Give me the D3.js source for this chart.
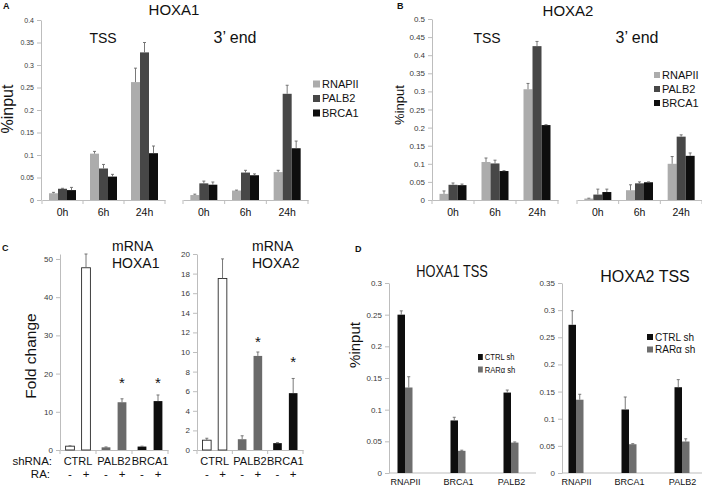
<!DOCTYPE html>
<html>
<head>
<meta charset="utf-8">
<script src="https://cdn.jsdelivr.net/npm/d3@7"></script>
<style>
  body { margin: 0; background: #fff; }
  text { font-family: "Liberation Sans", Arial, sans-serif; }
</style>
</head>
<body>
<svg id="fig" width="702" height="488"></svg>
<script>
// ---- data ----
var timepoints = ["0h", "6h", "24h"];
var chipSeries = ["RNAPII", "PALB2", "BRCA1"];

// panel A, HOXA1 (%input), rows = timepoints, cols = chipSeries
var a_tss = [[0.015, 0.025, 0.022], [0.103, 0.070, 0.052], [0.262, 0.328, 0.104]];
var a_tssErr = [[0.002, 0.001, 0.006], [0.005, 0.009, 0.005], [0.031, 0.022, 0.016]];
var a_end = [[0.011, 0.037, 0.034], [0.021, 0.061, 0.055], [0.062, 0.236, 0.115]];
var a_endErr = [[0.002, 0.005, 0.006], [0.001, 0.005, 0.003], [0.004, 0.019, 0.016]];

// panel B, HOXA2
var b_tss = [[0.017, 0.042, 0.041], [0.105, 0.101, 0.080], [0.306, 0.425, 0.207]];
var b_tssErr = [[0.008, 0.005, 0.003], [0.011, 0.009, 0.001], [0.016, 0.013, 0.001]];
var b_end = [[0.004, 0.015, 0.022], [0.027, 0.046, 0.049], [0.100, 0.175, 0.122]];
var b_endErr = [[0.001, 0.015, 0.008], [0.015, 0.004, 0.001], [0.020, 0.005, 0.008]];

// panel C, mRNA fold change, order CTRL-,CTRL+,PALB2-,PALB2+,BRCA1-,BRCA1+
var shGroups = ["CTRL", "PALB2", "BRCA1"];
var raStates = ["-", "+"];
var c_hoxa1 = [1.0, 47.7, 0.7, 12.5, 0.9, 12.8];
var c_hoxa1Err = [0.1, 3.6, 0.1, 0.9, 0.1, 1.6];
var c_hoxa1Star = [null, null, null, 18.3, null, 18.3];
var c_hoxa2 = [1.0, 17.5, 1.1, 9.6, 0.7, 5.8];
var c_hoxa2Err = [0.2, 2.0, 0.35, 0.4, 0.05, 1.5];
var c_hoxa2Star = [null, null, null, 11.3, null, 9.3];

// panel D, %input at TSS
var dTargets = ["RNAPII", "BRCA1", "PALB2"];
var dSeries = ["CTRL sh", "RARα sh"];
var d_hoxa1 = [[0.250, 0.135], [0.083, 0.035], [0.127, 0.048]];
var d_hoxa1Err = [[0.006, 0.017], [0.005, 0.001], [0.004, 0.001]];
var d_hoxa2 = [[0.273, 0.135], [0.117, 0.053], [0.158, 0.058]];
var d_hoxa2Err = [[0.026, 0.010], [0.023, 0.001], [0.014, 0.005]];

var chipColors = ["#acacac", "#474747", "#0e0e0e"];
var shColors = ["#ffffff", "#6a6a6a", "#0e0e0e"];
var dColors = ["#0e0e0e", "#6e6e6e"];

var svg = d3.select("#fig");
var fmt = function (d) { return String(+d.toFixed(2)); };
var AXIS = "#bdbdbd", ERR = "#6a6a6a";

function axisStyle(g, size) {
  g.attr("font-family", null).attr("font-size", size);
  g.select(".domain").attr("stroke", AXIS);
  g.selectAll(".tick line").attr("stroke", AXIS);
  g.selectAll(".tick text").attr("fill", "#3a3a3a");
}

function label(x, y, s, size, opt) {
  opt = opt || {};
  var t = svg.append("text").attr("x", x).attr("y", y)
    .attr("font-size", size)
    .attr("text-anchor", opt.anchor || "middle")
    .attr("fill", opt.fill || "#111")
    .text(s);
  if (opt.bold) t.attr("font-weight", "bold");
  if (opt.rotate) t.attr("transform", "rotate(-90," + x + "," + y + ")");
  if (opt.sx) t.attr("transform", "translate(" + x + "," + y + ") scale(" + opt.sx + ",1) translate(" + (-x) + "," + (-y) + ")");
  return t;
}

function errBar(g, cx, y0, y1) {
  g.append("line").attr("x1", cx).attr("x2", cx).attr("y1", y0).attr("y2", y1)
    .attr("stroke", ERR).attr("stroke-width", 0.9);
  g.append("line").attr("x1", cx - 1.5).attr("x2", cx + 1.5).attr("y1", y1).attr("y2", y1)
    .attr("stroke", ERR).attr("stroke-width", 0.9);
}

function legend(x, y0, dy, names, colors, size, sq, sx) {
  names.forEach(function (n, i) {
    var cy = y0 + i * dy;
    svg.append("rect").attr("x", x).attr("y", cy - sq / 2).attr("width", sq * (sx || 1)).attr("height", sq)
      .attr("fill", colors[i]);
    label(x + sq * (sx || 1) + 2, cy + size * 0.36, n, size, { anchor: "start", sx: sx });
  });
}

// ---- panels A and B ----
function chipPanel(o) {
  var y = d3.scaleLinear().domain([0, o.ymax]).range([200, o.ytop]);
  svg.append("g").attr("transform", "translate(" + o.yx + ",0)")
    .call(d3.axisLeft(y).tickValues(d3.range(0, o.ymax + 1e-9, 0.05)).tickFormat(fmt)
      .tickSize(4).tickSizeOuter(0).tickPadding(3))
    .call(axisStyle, o.tick);

  o.regions.forEach(function (r) {
    var x = d3.scaleBand().domain(timepoints).range(r.range);
    var inner = d3.scaleBand().domain(chipSeries).range([0, 27]);
    var off = (x.bandwidth() - 27) / 2;
    var gx = svg.append("g").attr("transform", "translate(0," + y(0) + ")")
      .call(d3.axisBottom(x).tickSize(0).tickSizeOuter(0).tickPadding(9))
      .call(axisStyle, 10.5);
    gx.selectAll(".tick text").attr("fill", "#111");
    gx.selectAll(".edge").data(timepoints.map(function (t) { return x(t); }).concat([x.range()[1]]))
      .join("line").attr("class", "edge")
      .attr("x1", function (d) { return d; }).attr("x2", function (d) { return d; })
      .attr("y1", 0).attr("y2", 4).attr("stroke", AXIS);

    var gb = svg.append("g");
    timepoints.forEach(function (t, i) {
      chipSeries.forEach(function (s, j) {
        var v = r.values[i][j], e = r.errs[i][j];
        var bx = x(t) + off + inner(s);
        gb.append("rect").attr("x", bx).attr("y", y(v))
          .attr("width", inner.bandwidth()).attr("height", y(0) - y(v))
          .attr("fill", chipColors[j]);
        errBar(gb, bx + inner.bandwidth() / 2, y(v), y(v + e));
      });
    });
    label(r.labelX, 43, r.name, r.size);
  });
}

chipPanel({
  ymax: 0.4, ytop: 20, yx: 41, tick: 7,
  regions: [
    { name: "TSS", range: [42, 165], values: a_tss, errs: a_tssErr, labelX: 103, size: 14 },
    { name: "3’ end", range: [183, 308], values: a_end, errs: a_endErr, labelX: 235, size: 16 }
  ]
});
chipPanel({
  ymax: 0.5, ytop: 19, yx: 432, tick: 8,
  regions: [
    { name: "TSS", range: [432, 558], values: b_tss, errs: b_tssErr, labelX: 487, size: 14 },
    { name: "3’ end", range: [577, 702], values: b_end, errs: b_endErr, labelX: 637, size: 16 }
  ]
});
label(3, 9, "A", 9, { anchor: "start", bold: true });
label(397, 9, "B", 9, { anchor: "start", bold: true });
label(174, 15, "HOXA1", 15);
label(568, 16, "HOXA2", 15);
label(13, 109, "%input", 16, { rotate: true });
label(404, 105, "%input", 13, { rotate: true });
legend(313, 84, 14.5, chipSeries, chipColors, 11, 7);
legend(654, 75, 14, chipSeries, chipColors, 11, 6);

// ---- panel C ----
function foldPanel(o) {
  var y = d3.scaleLinear().domain([0, o.ymax]).range([450, 254]);
  svg.append("g").attr("transform", "translate(" + o.x0 + ",0)")
    .call(d3.axisLeft(y).tickValues(d3.range(0, o.top + 1e-9, o.step))
      .tickSize(4).tickSizeOuter(0).tickPadding(3))
    .call(axisStyle, 8);
  var x = d3.scaleBand().domain(shGroups).range([o.x0, o.x1]);
  var gx = svg.append("g").attr("transform", "translate(0," + y(0) + ")")
    .call(d3.axisBottom(x).tickSize(0).tickSizeOuter(0).tickPadding(7))
    .call(axisStyle, 11);
  gx.selectAll(".tick text").attr("fill", "#111");
  gx.selectAll(".edge").data(shGroups.map(function (g) { return x(g); }).concat([x.range()[1]]))
    .join("line").attr("class", "edge")
    .attr("x1", function (d) { return d; }).attr("x2", function (d) { return d; })
    .attr("y1", 0).attr("y2", 4).attr("stroke", AXIS);

  var gb = svg.append("g");
  shGroups.forEach(function (g, i) {
    var inner = d3.scaleBand().domain(raStates).range([x(g), x(g) + x.bandwidth()])
      .paddingInner(0.45).paddingOuter(0.35);
    raStates.forEach(function (ra, j) {
      var k = i * 2 + j, v = o.values[k], e = o.errs[k];
      var bx = inner(ra), cx = bx + inner.bandwidth() / 2;
      gb.append("rect").attr("x", bx).attr("y", y(v))
        .attr("width", inner.bandwidth()).attr("height", y(0) - y(v))
        .attr("fill", shColors[i]).attr("stroke", i === 0 ? "#2a2a2a" : "none").attr("stroke-width", 0.9);
      errBar(gb, cx, y(v), y(v + e));
      if (o.stars[k] != null) label(cx, y(o.stars[k]) + 8, "*", 15);
      label(cx, 478, ra, 11.5);
    });
  });
  label(o.tx, 251, "mRNA", 14, { anchor: "start" });
  label(o.tx, 268, o.gene, 14, { anchor: "start" });
}

foldPanel({ x0: 60, x1: 168, ymax: 51.3, top: 50, step: 10, values: c_hoxa1, errs: c_hoxa1Err,
  stars: c_hoxa1Star, tx: 112, gene: "HOXA1" });
foldPanel({ x0: 197, x1: 303, ymax: 20, top: 20, step: 2, values: c_hoxa2, errs: c_hoxa2Err,
  stars: c_hoxa2Star, tx: 252, gene: "HOXA2" });
label(2, 251, "C", 9, { anchor: "start", bold: true });
label(36, 356, "Fold change", 15.5, { rotate: true });
label(52, 465, "shRNA:", 11.5, { anchor: "end" });
label(50, 478, "RA:", 11.5, { anchor: "end" });

// ---- panel D ----
function tssPanel(o) {
  var y = d3.scaleLinear().domain([0, o.ymax]).range([473, 283]);
  svg.append("g").attr("transform", "translate(" + o.yx + ",0)")
    .call(d3.axisLeft(y).tickValues(d3.range(0, o.ymax + 1e-9, 0.05)).tickFormat(fmt)
      .tickSize(4).tickSizeOuter(0).tickPadding(3))
    .call(axisStyle, 8);
  var x = d3.scalePoint().domain(dTargets).range(o.centers);
  svg.append("line").attr("x1", o.yx).attr("x2", o.xEnd).attr("y1", y(0)).attr("y2", y(0))
    .attr("stroke", AXIS);
  var gx = svg.append("g").attr("transform", "translate(0," + y(0) + ")")
    .call(d3.axisBottom(x).tickSize(0).tickPadding(6))
    .call(axisStyle, 9);
  gx.select(".domain").remove();
  gx.selectAll(".tick text").attr("fill", "#111");

  var inner = d3.scaleBand().domain(dSeries).range([-7.5, 7.5]);
  var gb = svg.append("g");
  dTargets.forEach(function (t, i) {
    dSeries.forEach(function (s, j) {
      var v = o.values[i][j], e = o.errs[i][j];
      var bx = x(t) + inner(s);
      gb.append("rect").attr("x", bx).attr("y", y(v))
        .attr("width", inner.bandwidth()).attr("height", y(0) - y(v))
        .attr("fill", dColors[j]);
      errBar(gb, bx + inner.bandwidth() / 2, y(v), y(v + e));
    });
  });
  label(o.titleX, o.titleY, o.title, 16, o.sx ? { sx: o.sx } : {});
  legend(o.legX, o.legY, 12.5, dSeries, dColors, o.legSize, 6, o.sx);
}

tssPanel({ yx: 389, xEnd: 536, centers: [405, 511], ymax: 0.3, values: d_hoxa1, errs: d_hoxa1Err,
  title: "HOXA1 TSS", titleX: 452, titleY: 277, sx: 0.8, legX: 478, legY: 357, legSize: 9.5 });
tssPanel({ yx: 562, xEnd: 702, centers: [576, 682], ymax: 0.35, values: d_hoxa2, errs: d_hoxa2Err,
  title: "HOXA2 TSS", titleX: 645, titleY: 282, legX: 647, legY: 337, legSize: 10 });
label(355, 252, "D", 9, { anchor: "start", bold: true });
label(360, 345, "%input", 15, { rotate: true });
</script>
</body>
</html>
